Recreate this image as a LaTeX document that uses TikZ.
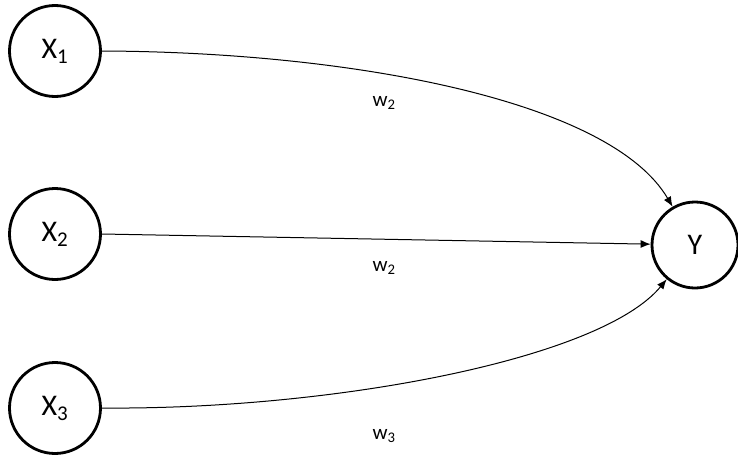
\documentclass[tikz,border=0pt]{standalone}
\usepackage{fontspec}
\setmainfont{Carlito}
\usetikzlibrary{arrows.meta}
\begin{document}
\begin{tikzpicture}[x=1pt,y=-1pt,
  nodecirc/.style={circle,draw,line width=2.8pt,minimum size=91pt,inner sep=0pt,font=\fontsize{30}{34}\selectfont},
  conn/.style={line width=1pt,-{Latex[length=10pt,width=8pt]}},
  wlabel/.style={font=\fontsize{21}{24}\selectfont}]
\path[use as bounding box] (0,0) rectangle (738,455);
\node[nodecirc] (X1) at (55,51) {X\textsubscript{1}};
\node[nodecirc] (X2) at (55,234) {X\textsubscript{2}};
\node[nodecirc] (X3) at (55,408) {X\textsubscript{3}};
\node[nodecirc,minimum size=86pt] (Y) at (695,245) {Y};
\draw[conn] (X1.east) .. controls (350,52) and (610,100) .. (Y);
\draw[conn] (X2.east) -- (Y);
\draw[conn] (X3.east) .. controls (330,410) and (600,360) .. (Y);
\node[wlabel] (w1) at (384,103) {w\textsubscript{2}};
\node[wlabel] (w2) at (384,268) {w\textsubscript{2}};
\node[wlabel] (w3) at (384,436) {w\textsubscript{3}};
\end{tikzpicture}
\end{document}
